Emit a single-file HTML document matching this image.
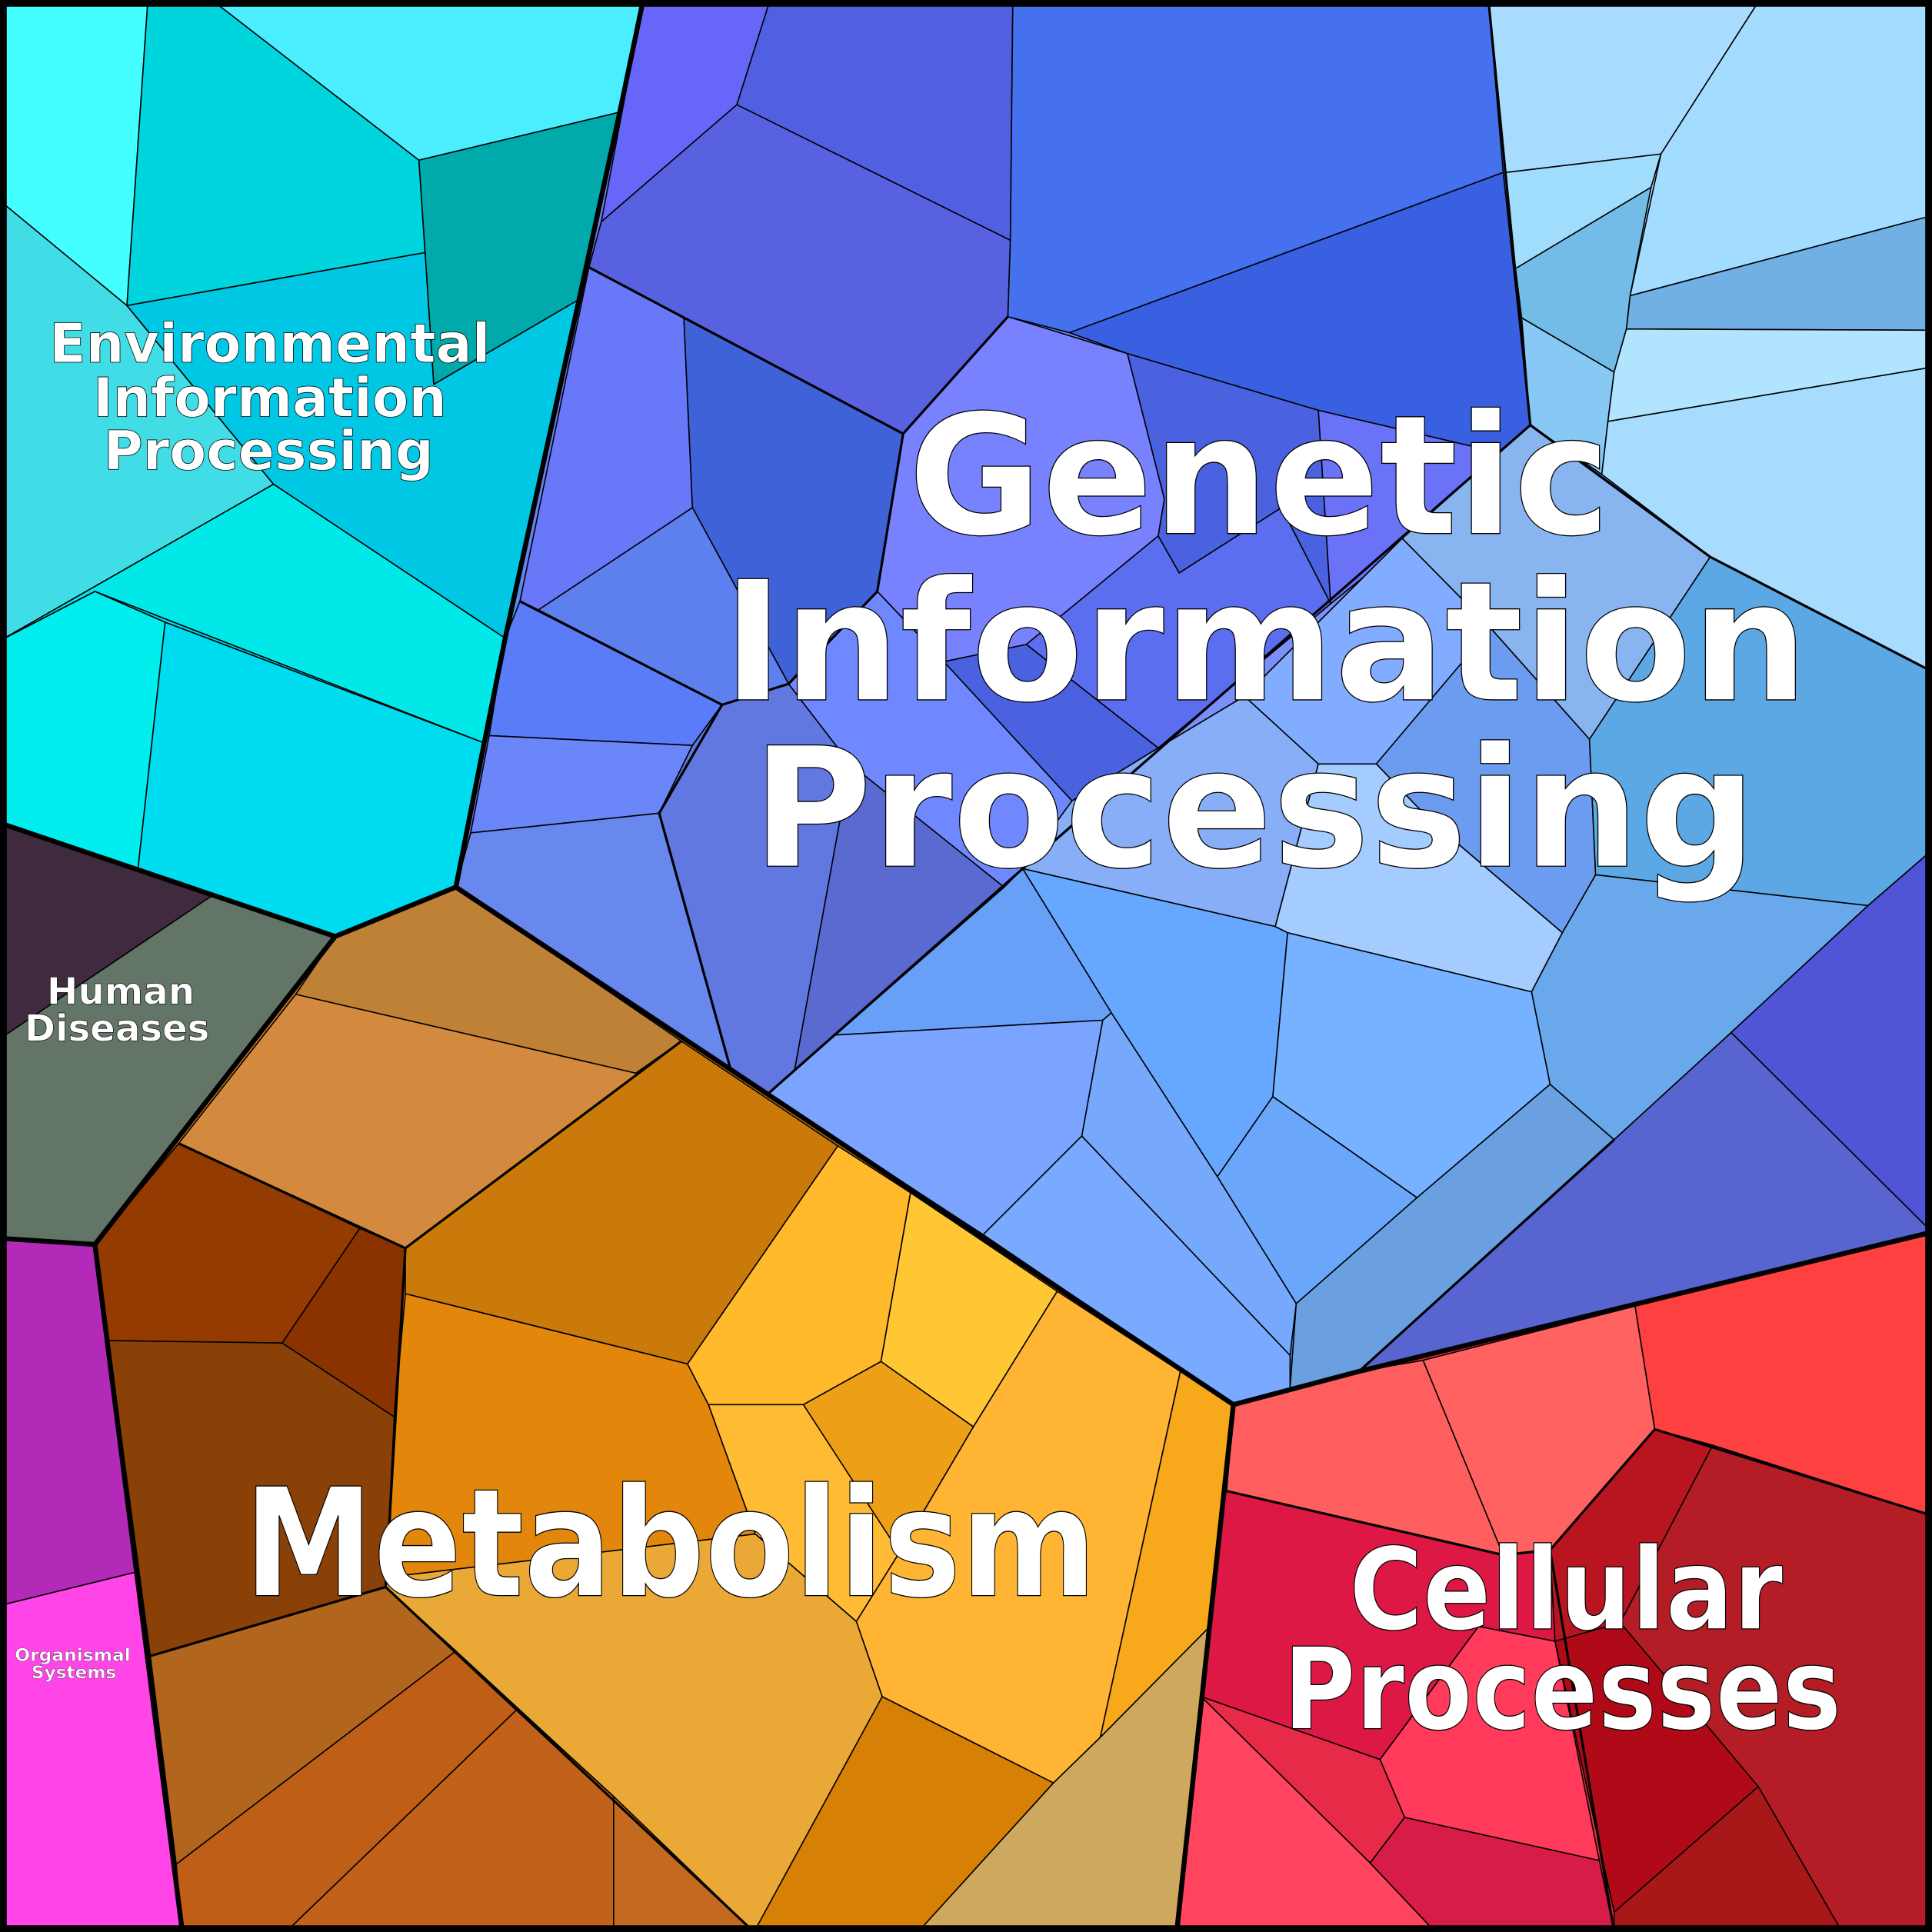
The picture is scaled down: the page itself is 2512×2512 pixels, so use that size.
<!DOCTYPE html>
<html><head><meta charset="utf-8"><style>html,body{margin:0;padding:0;background:#000}svg{display:block}</style></head><body>
<svg xmlns="http://www.w3.org/2000/svg" width="2512" height="2512" viewBox="0 0 1568 1568">
<rect width="1568" height="1568" fill="#6a80f0"/>
<g stroke="none">
<polygon fill="#00d4e4" points="0,0 522,0 370,720 272,760 0,668"/>
<polygon fill="#627566" points="0,668 272,760 77,1010 0,1005"/>
<polygon fill="#c87a20" points="272,760 370,720 1001,1140 955,1568 148,1568 77,1010"/>
<polygon fill="#e03040" points="1001,1140 1568,1000 1568,1568 955,1568"/>
<polygon fill="#a0d8fc" points="1208,0 1568,0 1568,545 1242,345"/>
</g>
<g stroke="#000" stroke-width="1" stroke-linejoin="round">
<polygon fill="#44ffff" points="0,0 120,0 103,248 0,163"/>
<polygon fill="#00d4dc" points="120,0 172,0 340,130 345,205 103,248"/>
<polygon fill="#4aeeff" points="172,0 522,0 503,91 340,130"/>
<polygon fill="#00aaaa" points="340,130 503,91 470,243 352,312 345,205"/>
<polygon fill="#40dde6" points="0,163 103,248 222,393 0,520"/>
<polygon fill="#00c8e4" points="103,248 345,205 352,312 470,243 410,518 222,393"/>
<polygon fill="#00e8e8" points="0,520 222,393 410,518 393,603 77,480"/>
<polygon fill="#00eeee" points="0,520 77,480 134,505 112,705 0,668"/>
<polygon fill="#00dcef" points="134,505 393,603 370,720 272,760 112,705"/>
<polygon fill="#3f2a3e" points="0,668 172,727 0,843"/>
<polygon fill="#627566" points="0,843 172,727 272,760 77,1010 0,1005"/>
<polygon fill="#b32ab8" points="0,1005 77,1010 110,1276 0,1303"/>
<polygon fill="#ff44e8" points="0,1303 110,1276 148,1568 0,1568"/>
<polygon fill="#bf8136" points="272,760 370,720 553,845 516,871 240,807"/>
<polygon fill="#d48a3e" points="240,807 516,871 553,845 329,1013 145,928"/>
<polygon fill="#933b00" points="77,1010 145,928 292,997 229,1090 88,1088"/>
<polygon fill="#8b3300" points="292,997 329,1013 320,1150 229,1090"/>
<polygon fill="#8a4108" points="88,1088 229,1090 320,1150 313,1288 122,1344"/>
<polygon fill="#c97a0a" points="329,1013 553,845 680,930 558,1107 329,1050"/>
<polygon fill="#e2870b" points="329,1050 558,1107 575,1140 613,1245 315,1280 320,1150"/>
<polygon fill="#ffb92a" points="558,1107 680,930 739,968 715,1105 652,1140 575,1140"/>
<polygon fill="#ffc733" points="739,968 858,1048 790,1158 715,1105"/>
<polygon fill="#ee9f18" points="652,1140 715,1105 790,1158 730,1260 690,1200"/>
<polygon fill="#ffbb33" points="575,1140 652,1140 730,1260 695,1316 613,1245"/>
<polygon fill="#ffb533" points="858,1048 958,1113 893,1410 855,1447 716,1377 695,1316 730,1260 790,1158"/>
<polygon fill="#f8a91b" points="958,1113 1001,1140 980,1322 893,1410"/>
<polygon fill="#eaa836" points="313,1288 315,1280 613,1245 695,1316 716,1377 612,1568 498,1458 370,1340"/>
<polygon fill="#d68005" points="716,1377 855,1447 745,1568 612,1568"/>
<polygon fill="#cea85e" points="855,1447 893,1410 980,1322 955,1568 745,1568"/>
<polygon fill="#b2651d" points="122,1344 313,1288 370,1340 143,1513"/>
<polygon fill="#bf5e17" points="143,1513 370,1340 420,1387 232,1568 148,1568"/>
<polygon fill="#c2621a" points="420,1387 498,1458 498,1568 232,1568"/>
<polygon fill="#c46a20" points="498,1458 612,1568 498,1568"/>
<polygon fill="#ff5e5e" points="1001,1140 1103,1113 1155,1104 1220,1262 995,1210"/>
<polygon fill="#ff6260" points="1155,1104 1327,1060 1343,1160 1258,1258 1220,1262"/>
<polygon fill="#ff4040" points="1327,1060 1568,1000 1568,1230 1390,1173 1343,1160"/>
<polygon fill="#b81520" points="1343,1160 1390,1173 1315,1317 1262,1332 1258,1258"/>
<polygon fill="#b41c26" points="1390,1173 1568,1230 1568,1568 1495,1568 1427,1450 1315,1317"/>
<polygon fill="#b00a18" points="1262,1332 1315,1317 1427,1450 1310,1552"/>
<polygon fill="#a81818" points="1427,1450 1495,1568 1310,1568 1310,1552"/>
<polygon fill="#dd1845" points="995,1210 1220,1262 1258,1258 1262,1332 1200,1320 1120,1428 975,1377"/>
<polygon fill="#ff3a5a" points="1120,1428 1200,1320 1262,1332 1298,1510 1140,1475"/>
<polygon fill="#e62a48" points="975,1377 1120,1428 1140,1475 1112,1512 988,1390"/>
<polygon fill="#ff445e" points="975,1377 988,1390 1112,1512 1165,1568 955,1568"/>
<polygon fill="#d81c48" points="1112,1512 1140,1475 1298,1510 1310,1568 1165,1568"/>
<polygon fill="#6666f8" points="522,0 625,0 598,85 488,180"/>
<polygon fill="#5060e0" points="625,0 822,0 820,195 598,85"/>
<polygon fill="#5862e0" points="488,180 598,85 820,195 818,257 733,352 555,258 478,217"/>
<polygon fill="#4570ee" points="822,0 1208,0 1220,140 868,270 818,257 820,195"/>
<polygon fill="#3860e0" points="868,270 1220,140 1242,345 1228,370 1070,333 915,287"/>
<polygon fill="#6878f8" points="478,217 555,258 562,412 437,495 422,488"/>
<polygon fill="#4062d8" points="555,258 733,352 712,480 700,500 640,555 562,412"/>
<polygon fill="#5e80ee" points="437,495 562,412 640,555 586,572"/>
<polygon fill="#5a7cf8" points="422,488 437,495 586,572 562,605 397,597 410,518"/>
<polygon fill="#6a86f8" points="397,597 562,605 535,660 382,676"/>
<polygon fill="#6888ee" points="382,676 535,660 593,868 623,888 370,720"/>
<polygon fill="#6078e0" points="535,660 562,605 586,572 640,555 690,620 645,868 623,888 593,868"/>
<polygon fill="#5a6ad0" points="690,620 815,720 645,868"/>
<polygon fill="#7882ff" points="733,352 818,257 915,287 945,405 940,435 833,523 766,537 712,480"/>
<polygon fill="#4a62e0" points="766,537 833,523 940,607 870,650"/>
<polygon fill="#7088ff" points="640,555 712,480 766,537 870,650 830,705 815,720 690,620"/>
<polygon fill="#4a62e0" points="915,287 1070,333 1080,490 1040,412 957,465 940,435 945,405"/>
<polygon fill="#5c6ef0" points="940,435 957,465 1040,412 1080,490 940,607 833,523"/>
<polygon fill="#6a72f8" points="1070,333 1228,370 1080,490"/>
<polygon fill="#7a90f8" points="1080,490 1228,370 1242,345 1138,437 1010,565 940,607"/>
<polygon fill="#88aef8" points="870,650 940,607 1010,565 1070,620 1035,752 830,705"/>
<polygon fill="#88b4f0" points="1242,345 1388,452 1290,600 1210,510 1138,437"/>
<polygon fill="#82acff" points="1138,437 1210,510 1117,620 1070,620 1010,565"/>
<polygon fill="#6c9cef" points="1117,620 1210,510 1290,600 1295,710 1268,757 1160,665"/>
<polygon fill="#a4ccff" points="1070,620 1117,620 1160,665 1268,757 1243,805 1045,757 1035,752"/>
<polygon fill="#a8dcff" points="1208,0 1428,0 1348,125 1222,140"/>
<polygon fill="#a2dcff" points="1428,0 1568,0 1568,175 1323,240 1348,125"/>
<polygon fill="#a0dcfc" points="1222,140 1348,125 1340,152 1230,218"/>
<polygon fill="#74bce8" points="1230,218 1340,152 1323,240 1320,267 1310,302 1235,258"/>
<polygon fill="#88c8f4" points="1235,258 1310,302 1305,342 1300,385 1242,345"/>
<polygon fill="#70b0e4" points="1323,240 1568,175 1568,268 1320,267"/>
<polygon fill="#b0e4ff" points="1320,267 1568,268 1568,298 1305,342 1310,302"/>
<polygon fill="#a8dcff" points="1305,342 1568,298 1568,545 1388,452 1300,385"/>
<polygon fill="#5ca8e4" points="1388,452 1568,545 1568,690 1516,735 1295,710 1290,600"/>
<polygon fill="#6aa8ec" points="1295,710 1516,735 1405,838 1310,925 1258,880 1243,805 1268,757"/>
<polygon fill="#5055d8" points="1516,735 1568,690 1568,1000 1405,838"/>
<polygon fill="#5864d0" points="1405,838 1568,1000 1103,1113 1310,925"/>
<polygon fill="#6aa0e0" points="1052,1058 1150,972 1258,880 1310,925 1103,1113 1047,1127"/>
<polygon fill="#66a8ff" points="830,705 1035,752 1045,757 1033,890 988,955 902,822"/>
<polygon fill="#76b2ff" points="1045,757 1243,805 1258,880 1150,972 1033,890"/>
<polygon fill="#6aa6fa" points="988,955 1033,890 1150,972 1052,1058"/>
<polygon fill="#68a0f8" points="678,840 815,720 830,705 902,822 895,828"/>
<polygon fill="#7aa4ff" points="623,888 645,868 678,840 895,828 878,922 798,1002"/>
<polygon fill="#7aaaff" points="798,1002 878,922 1047,1100 1047,1127 1001,1140"/>
<polygon fill="#76a8fc" points="878,922 895,828 902,822 988,955 1052,1058 1047,1100"/>
</g>
<g fill="none" stroke="#000" stroke-width="2" stroke-linejoin="round">
<polyline points="1208,0 1242,345 1388,452 1568,545"/>
<polyline points="1242,345 830,705 623,888"/>
<polyline points="478,217 733,352 818,257"/>
<polyline points="733,352 712,480 640,555 586,572 535,660 593,868"/>
<polyline points="422,488 586,572"/>
<polyline points="1001,1140 995,1210 1220,1262 1258,1258 1343,1160 1568,1230"/>
<polyline points="1258,1258 1310,1568"/>
<polyline points="329,1013 145,928"/>
<polyline points="329,1013 553,845"/>
<polyline points="329,1013 313,1288 122,1344"/>
<polyline points="313,1288 612,1568"/>
<polyline points="1103,1113 1310,925"/>
</g>
<g fill="none" stroke="#000" stroke-width="4" stroke-linejoin="round">
<polyline points="522,0 503,91 470,243 410,518 393,603 370,720 272,760 0,668"/>
<polyline points="272,760 77,1010 0,1005"/>
<polyline points="77,1010 148,1568"/>
<polyline points="370,720 623,888 1001,1140 955,1568"/>
<polyline points="1001,1140 1103,1113 1568,1000"/>
<rect x="2" y="2" width="1564" height="1564" stroke-width="7"/>
</g>
<g fill="#fff" stroke="#000" stroke-width="0.8" font-family="'DejaVu Sans','Liberation Sans',sans-serif" font-weight="bold" text-anchor="middle">
<text x="1022" y="433" font-size="135" textLength="570" lengthAdjust="spacingAndGlyphs">Genetic</text>
<text x="1027" y="568" font-size="135" textLength="881" lengthAdjust="spacingAndGlyphs">Information</text>
<text x="1018" y="703" font-size="135" textLength="815" lengthAdjust="spacingAndGlyphs">Processing</text>
<text x="544" y="1295" font-size="122" textLength="692" lengthAdjust="spacingAndGlyphs">Metabolism</text>
<text x="1271" y="1322" font-size="92" textLength="352" lengthAdjust="spacingAndGlyphs">Cellular</text>
<text x="1268" y="1403" font-size="92" textLength="453" lengthAdjust="spacingAndGlyphs">Processes</text>
<text x="219" y="294" font-size="44" stroke-width="0.5" textLength="358" lengthAdjust="spacingAndGlyphs">Environmental</text>
<text x="219" y="338" font-size="44" stroke-width="0.5" textLength="287" lengthAdjust="spacingAndGlyphs">Information</text>
<text x="218" y="381" font-size="44" stroke-width="0.5" textLength="268" lengthAdjust="spacingAndGlyphs">Processing</text>
<text x="98" y="815" font-size="30" stroke-width="0.4" textLength="120" lengthAdjust="spacingAndGlyphs">Human</text>
<text x="95" y="845" font-size="30" stroke-width="0.4" textLength="150" lengthAdjust="spacingAndGlyphs">Diseases</text>
<text x="59" y="1348" font-size="14" stroke-width="0.2" textLength="94" lengthAdjust="spacingAndGlyphs">Organismal</text>
<text x="60" y="1362" font-size="14" stroke-width="0.2" textLength="69" lengthAdjust="spacingAndGlyphs">Systems</text>
</g>
</svg>
</body></html>
